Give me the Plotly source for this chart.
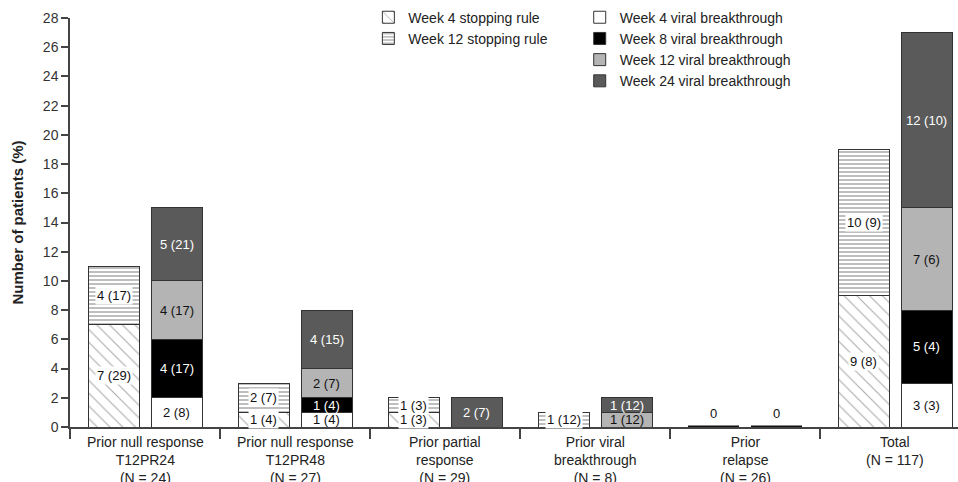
import plotly.graph_objects as go

# Patient groups (x-axis categories)
categories = [
    "Prior null response<br>T12PR24<br>(N = 24)",
    "Prior null response<br>T12PR48<br>(N = 27)",
    "Prior partial<br>response<br>(N = 29)",
    "Prior viral<br>breakthrough<br>(N = 8)",
    "Prior<br>relapse<br>(N = 26)",
    "Total<br>(N = 117)",
]

# Stopping-rule bar: patient counts and percentages
stop_w4_n = [7, 1, 1, 0, 0, 9]
stop_w4_pct = [29, 4, 3, None, None, 8]
stop_w12_n = [4, 2, 1, 1, 0, 10]
stop_w12_pct = [17, 7, 3, 12, None, 9]

# Viral-breakthrough bar: patient counts and percentages
vb_w4_n = [2, 1, 0, 0, 0, 3]
vb_w4_pct = [8, 4, None, None, None, 3]
vb_w8_n = [4, 1, 0, 0, 0, 5]
vb_w8_pct = [17, 4, None, None, None, 4]
vb_w12_n = [4, 2, 0, 1, 0, 7]
vb_w12_pct = [17, 7, None, 12, None, 6]
vb_w24_n = [5, 4, 2, 1, 0, 12]
vb_w24_pct = [21, 15, 7, 12, None, 10]

y_ticks = list(range(0, 29, 2))

FONT = "Liberation Sans, Arial, Helvetica, sans-serif"
EDGE = "#333333"
OFFSET = 0.21
WIDTH = 0.34

groups = list(range(len(categories)))
x_stop = [g - OFFSET for g in groups]
x_vb = [g + OFFSET for g in groups]

fig = go.Figure()

stop_series = [
    ("Week 4 stopping rule", stop_w4_n, stop_w4_pct,
     dict(color="white", pattern=dict(shape="\\", size=9, solidity=0.12, fgcolor="#555555", bgcolor="white"))),
    ("Week 12 stopping rule", stop_w12_n, stop_w12_pct,
     dict(color="white", pattern=dict(shape="-", size=4, solidity=0.35, fgcolor="#444444", bgcolor="white"))),
]
vb_series = [
    ("Week 4 viral breakthrough", vb_w4_n, vb_w4_pct, dict(color="white"), "#111111"),
    ("Week 8 viral breakthrough", vb_w8_n, vb_w8_pct, dict(color="#000000"), "white"),
    ("Week 12 viral breakthrough", vb_w12_n, vb_w12_pct, dict(color="#b4b4b4"), "#111111"),
    ("Week 24 viral breakthrough", vb_w24_n, vb_w24_pct, dict(color="#5a5a5a"), "white"),
]

annotations = []

def seg_label(n, p):
    return f"{n} ({p})"

# stopping-rule stacks
base = [0] * len(groups)
for name, n, pct, marker in stop_series:
    marker = dict(marker, line=dict(color=EDGE, width=1))
    fig.add_trace(go.Bar(x=x_stop, y=n, width=WIDTH, name=name, marker=marker,
                         legend="legend", hoverinfo="skip"))
    for i, (v, p) in enumerate(zip(n, pct)):
        if v > 0:
            annotations.append(dict(x=x_stop[i], y=base[i] + v / 2, xref="x", yref="y",
                                    text=seg_label(v, p), showarrow=False, bgcolor="white",
                                    borderpad=1, font=dict(family=FONT, size=13, color="#111111")))
        base[i] += v

# viral-breakthrough stacks
base = [0] * len(groups)
for name, n, pct, col, tcol in vb_series:
    marker = dict(col, line=dict(color=EDGE, width=1))
    fig.add_trace(go.Bar(x=x_vb, y=n, width=WIDTH, name=name, marker=marker,
                         legend="legend2", hoverinfo="skip"))
    for i, (v, p) in enumerate(zip(n, pct)):
        if v > 0:
            annotations.append(dict(x=x_vb[i], y=base[i] + v / 2, xref="x", yref="y",
                                    text=seg_label(v, p), showarrow=False,
                                    font=dict(family=FONT, size=13, color=tcol)))
        base[i] += v

# groups with no patients: flat black marks at zero with a "0" label
stop_tot = [a + b for a, b in zip(stop_w4_n, stop_w12_n)]
vb_tot = [a + b + c + d for a, b, c, d in zip(vb_w4_n, vb_w8_n, vb_w12_n, vb_w24_n)]
for xs, tot in ((x_stop, stop_tot), (x_vb, vb_tot)):
    for i, t in enumerate(tot):
        if t == 0:
            fig.add_trace(go.Scatter(x=[xs[i] - WIDTH / 2, xs[i] + WIDTH / 2], y=[t, t],
                                     mode="lines", line=dict(color="#111111", width=3),
                                     cliponaxis=False, showlegend=False, hoverinfo="skip"))
            annotations.append(dict(x=xs[i], y=t, xref="x", yref="y", yanchor="bottom",
                                    yshift=4, text=str(t), showarrow=False,
                                    font=dict(family=FONT, size=13, color="#111111")))

# category labels below the axis
for g, lab in zip(groups, categories):
    annotations.append(dict(x=g, y=0, xref="x", yref="y", yanchor="top", yshift=-5,
                            text=lab, showarrow=False, align="center",
                            font=dict(family=FONT, size=14, color="#222222")))

fig.update_layout(
    width=958, height=482,
    margin=dict(l=70, r=0, t=18, b=55),
    plot_bgcolor="white", paper_bgcolor="white",
    barmode="stack",
    font=dict(family=FONT, color="#222222"),
    showlegend=True,
    legend=dict(x=0.336, y=1.04, xanchor="left", yanchor="top", bgcolor="rgba(0,0,0,0)",
                font=dict(family=FONT, size=14, color="#222222"), traceorder="normal",
                itemclick=False, tracegroupgap=0),
    legend2=dict(x=0.574, y=1.04, xanchor="left", yanchor="top", bgcolor="rgba(0,0,0,0)",
                 font=dict(family=FONT, size=14, color="#222222"), traceorder="normal",
                 itemclick=False, tracegroupgap=0),
    annotations=annotations,
)

fig.update_xaxes(
    range=[-0.5, 5.42],
    tickvals=[g - 0.5 for g in groups] + [len(groups) - 0.5],
    showticklabels=False,
    ticks="outside", ticklen=10, tickcolor="#444444", tickwidth=1.5,
    showline=True, linecolor="#444444", linewidth=1.5,
    showgrid=False, zeroline=False,
)
fig.update_yaxes(
    range=[0, 28],
    tickvals=y_ticks,
    ticks="outside", ticklen=7, tickcolor="#444444", tickwidth=1.5,
    showline=True, linecolor="#444444", linewidth=1.5,
    showgrid=False, zeroline=False,
    tickfont=dict(family=FONT, size=14, color="#333333"),
    title=dict(text="<b>Number of patients (%)</b>", standoff=16,
               font=dict(family=FONT, size=15, color="#222222")),
)

fig.write_html("out.html")
